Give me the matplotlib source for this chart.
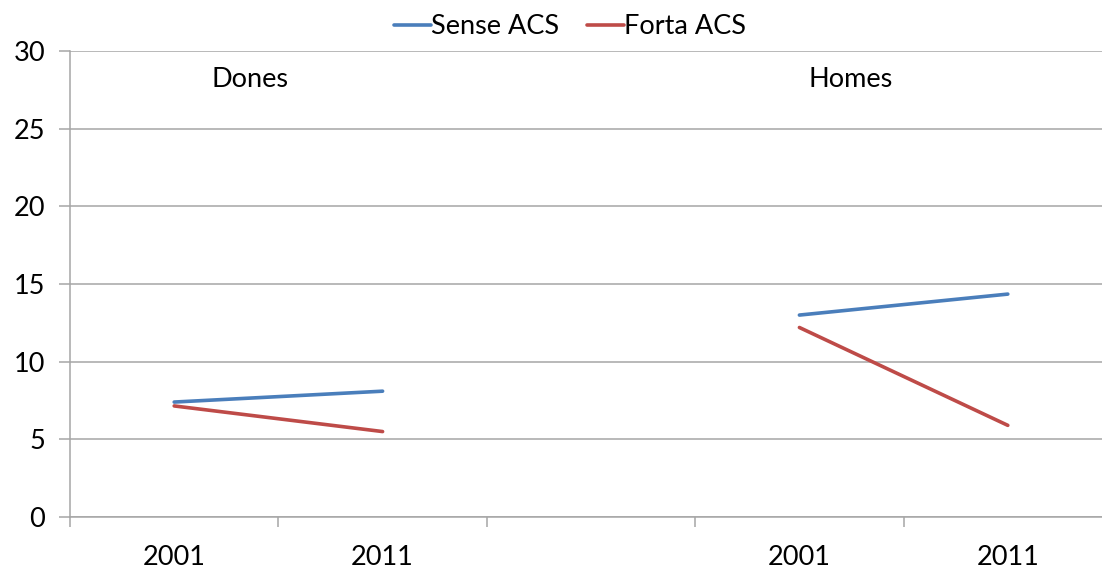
import matplotlib.pyplot as plt
import numpy as np

plt.rcParams['font.family'] = ['Lato', 'DejaVu Sans']

# Data
categories = ['2001', '2011', '', '2001', '2011']
sense_acs = [7.4, 8.1, np.nan, 13.0, 14.35]
forta_acs = [7.15, 5.5, np.nan, 12.2, 5.9]
group_labels = ['Dones', 'Homes']
series_names = ['Sense ACS', 'Forta ACS']

BLUE = '#4a7ebb'
RED = '#be4b48'
GRID = '#a6a6a6'
FS = 19.5

fig = plt.figure(figsize=(11.02, 5.70), dpi=100)
# axes runs a little past the right edge, as in the reference
ax = fig.add_axes([70 / 1102, 53 / 570, 1042 / 1102, 466 / 570])

x = np.arange(len(categories))
ax.plot(x, sense_acs, color=BLUE, lw=2.6, solid_capstyle='round', label=series_names[0])
ax.plot(x, forta_acs, color=RED, lw=2.6, solid_capstyle='round', label=series_names[1])

ax.set_xlim(-0.5, len(categories) - 0.5)
ax.set_ylim(0, 30)
ax.set_yticks(np.arange(0, 31, 5))
ax.yaxis.grid(True, color=GRID, lw=1.1)
ax.set_axisbelow(True)

# category labels centred, tick marks between categories
ax.set_xticks(x)
ax.set_xticklabels(categories)
ax.set_xticks(np.arange(-0.5, len(categories), 1), minor=True)
ax.tick_params(axis='x', which='major', length=0, pad=20, labelsize=FS)
ax.tick_params(axis='x', which='minor', length=7, color=GRID, width=1.1)
ax.tick_params(axis='y', length=8, color=GRID, width=1.1, labelsize=FS, pad=10)

for side in ['top', 'right']:
    ax.spines[side].set_visible(False)
for side in ['left', 'bottom']:
    ax.spines[side].set_color(GRID)
    ax.spines[side].set_linewidth(1.1)

ax.text(0.173, 0.938, group_labels[0], transform=ax.transAxes, ha='center', va='center', fontsize=FS)
ax.text(0.749, 0.938, group_labels[1], transform=ax.transAxes, ha='center', va='center', fontsize=FS)

fig.legend(loc='center', bbox_to_anchor=(570 / 1102, 1 - 27 / 570), ncol=2, frameon=False,
           fontsize=FS, handlelength=1.35, handletextpad=0.0, columnspacing=1.05)

fig.savefig('out.png', dpi=100)
